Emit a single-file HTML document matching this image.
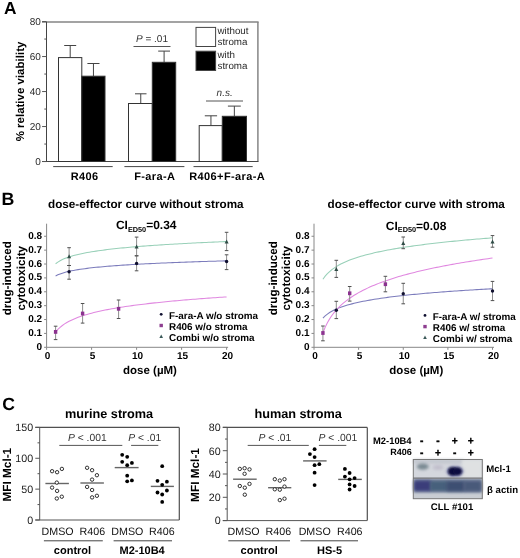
<!DOCTYPE html>
<html><head><meta charset="utf-8"><style>
html,body{margin:0;padding:0;background:#fff;}
svg{display:block;font-family:"Liberation Sans", sans-serif;opacity:0.999;text-rendering:geometricPrecision;}
</style></head><body>
<svg width="520" height="558" viewBox="0 0 520 558">
<rect width="520" height="558" fill="#fff"/>
<text x="4.00" y="14.30" font-size="17.3" font-weight="bold" font-style="normal" text-anchor="start" fill="#000" >A</text>
<line x1="42.00" y1="21.90" x2="258.60" y2="21.90" stroke="#858585" stroke-width="1.5"/>
<line x1="257.90" y1="21.90" x2="257.90" y2="161.50" stroke="#858585" stroke-width="1.5"/>
<line x1="46.50" y1="21.90" x2="46.50" y2="161.60" stroke="#444" stroke-width="1"/>
<line x1="42.00" y1="161.50" x2="258.50" y2="161.50" stroke="#444" stroke-width="1"/>
<line x1="42.10" y1="161.55" x2="46.50" y2="161.55" stroke="#555" stroke-width="1"/>
<text x="40.80" y="165.05" font-size="10" font-weight="normal" font-style="normal" text-anchor="end" fill="#2a2a2a" >0</text>
<line x1="42.10" y1="126.55" x2="46.50" y2="126.55" stroke="#555" stroke-width="1"/>
<text x="40.80" y="130.05" font-size="10" font-weight="normal" font-style="normal" text-anchor="end" fill="#2a2a2a" >20</text>
<line x1="42.10" y1="91.55" x2="46.50" y2="91.55" stroke="#555" stroke-width="1"/>
<text x="40.80" y="95.05" font-size="10" font-weight="normal" font-style="normal" text-anchor="end" fill="#2a2a2a" >40</text>
<line x1="42.10" y1="56.55" x2="46.50" y2="56.55" stroke="#555" stroke-width="1"/>
<text x="40.80" y="60.05" font-size="10" font-weight="normal" font-style="normal" text-anchor="end" fill="#2a2a2a" >60</text>
<line x1="42.10" y1="21.55" x2="46.50" y2="21.55" stroke="#555" stroke-width="1"/>
<text x="40.80" y="25.05" font-size="10" font-weight="normal" font-style="normal" text-anchor="end" fill="#2a2a2a" >80</text>
<line x1="44.30" y1="144.05" x2="46.50" y2="144.05" stroke="#555" stroke-width="1"/>
<line x1="44.30" y1="109.05" x2="46.50" y2="109.05" stroke="#555" stroke-width="1"/>
<line x1="44.30" y1="74.05" x2="46.50" y2="74.05" stroke="#555" stroke-width="1"/>
<line x1="44.30" y1="39.05" x2="46.50" y2="39.05" stroke="#555" stroke-width="1"/>
<line x1="70.20" y1="57.60" x2="70.20" y2="45.50" stroke="#444" stroke-width="1"/>
<line x1="64.20" y1="45.50" x2="76.20" y2="45.50" stroke="#444" stroke-width="1"/>
<rect x="58.50" y="57.60" width="23.30" height="103.90" fill="#fff" stroke="#333" stroke-width="1"/>
<line x1="93.45" y1="76.20" x2="93.45" y2="63.50" stroke="#444" stroke-width="1"/>
<line x1="87.40" y1="63.50" x2="99.50" y2="63.50" stroke="#444" stroke-width="1"/>
<rect x="81.80" y="76.20" width="23.20" height="85.30" fill="#000" stroke="#333" stroke-width="1"/>
<line x1="140.75" y1="103.50" x2="140.75" y2="93.80" stroke="#444" stroke-width="1"/>
<line x1="135.00" y1="93.80" x2="146.50" y2="93.80" stroke="#444" stroke-width="1"/>
<rect x="128.50" y="103.50" width="23.80" height="58.00" fill="#fff" stroke="#333" stroke-width="1"/>
<line x1="164.10" y1="62.30" x2="164.10" y2="51.10" stroke="#444" stroke-width="1"/>
<line x1="158.20" y1="51.10" x2="170.00" y2="51.10" stroke="#444" stroke-width="1"/>
<rect x="152.30" y="62.30" width="23.40" height="99.20" fill="#000" stroke="#333" stroke-width="1"/>
<line x1="210.95" y1="125.60" x2="210.95" y2="115.80" stroke="#444" stroke-width="1"/>
<line x1="204.80" y1="115.80" x2="217.10" y2="115.80" stroke="#444" stroke-width="1"/>
<rect x="199.20" y="125.60" width="23.10" height="35.90" fill="#fff" stroke="#333" stroke-width="1"/>
<line x1="234.35" y1="116.30" x2="234.35" y2="106.10" stroke="#444" stroke-width="1"/>
<line x1="227.90" y1="106.10" x2="240.80" y2="106.10" stroke="#444" stroke-width="1"/>
<rect x="222.30" y="116.30" width="24.20" height="45.20" fill="#000" stroke="#333" stroke-width="1"/>
<text x="136.00" y="41.50" font-size="10" font-weight="normal" font-style="normal" text-anchor="start" fill="#333" ><tspan font-style="italic">P</tspan> = .01</text>
<line x1="133.50" y1="46.50" x2="170.50" y2="46.50" stroke="#555" stroke-width="1"/>
<text x="216.60" y="95.60" font-size="10" font-weight="normal" font-style="italic" text-anchor="start" fill="#333" >n.s.</text>
<line x1="206.00" y1="101.00" x2="243.00" y2="101.00" stroke="#555" stroke-width="1"/>
<rect x="196.00" y="27.40" width="19.60" height="19.10" fill="#fff" stroke="#444" stroke-width="1"/>
<rect x="196.00" y="51.20" width="19.60" height="19.30" fill="#000" stroke="#444" stroke-width="1"/>
<text x="217.50" y="33.90" font-size="9.8" font-weight="normal" font-style="normal" text-anchor="start" fill="#2a2a2a" >without</text>
<text x="217.50" y="45.10" font-size="9.8" font-weight="normal" font-style="normal" text-anchor="start" fill="#2a2a2a" >stroma</text>
<text x="217.50" y="58.20" font-size="9.8" font-weight="normal" font-style="normal" text-anchor="start" fill="#2a2a2a" >with</text>
<text x="217.50" y="69.30" font-size="9.8" font-weight="normal" font-style="normal" text-anchor="start" fill="#2a2a2a" >stroma</text>
<line x1="53.20" y1="166.60" x2="112.70" y2="166.60" stroke="#444" stroke-width="1"/>
<line x1="124.40" y1="166.60" x2="184.40" y2="166.60" stroke="#444" stroke-width="1"/>
<line x1="193.50" y1="166.60" x2="252.70" y2="166.60" stroke="#444" stroke-width="1"/>
<text x="84.70" y="180.00" font-size="11" font-weight="bold" font-style="normal" text-anchor="middle" fill="#000" letter-spacing="0.4">R406</text>
<text x="154.80" y="180.00" font-size="11" font-weight="bold" font-style="normal" text-anchor="middle" fill="#000" letter-spacing="0.4">F-ara-A</text>
<text x="227.20" y="180.00" font-size="11" font-weight="bold" font-style="normal" text-anchor="middle" fill="#000" letter-spacing="0.4">R406+F-ara-A</text>
<text transform="translate(23.6,91.5) rotate(-90)" font-size="11.5" font-weight="bold" text-anchor="middle" fill="#000">% relative viability</text>
<text x="1.60" y="204.90" font-size="17.8" font-weight="bold" font-style="normal" text-anchor="start" fill="#000" >B</text>
<text x="48.10" y="207.70" font-size="11.7" font-weight="bold" font-style="normal" text-anchor="start" fill="#000" >dose-effector curve without stroma</text>
<text x="115.90" y="229.30" font-size="12" font-weight="bold" fill="#000">CI<tspan font-size="7.3" dy="2.6">ED50</tspan><tspan dy="-2.6">=0.34</tspan></text>
<line x1="46.60" y1="223.70" x2="46.60" y2="347.30" stroke="#888" stroke-width="1"/>
<line x1="46.60" y1="347.30" x2="228.10" y2="347.30" stroke="#888" stroke-width="1"/>
<line x1="44.10" y1="347.30" x2="46.60" y2="347.30" stroke="#888" stroke-width="1"/>
<text x="42.10" y="349.80" font-size="10" font-weight="bold" font-style="normal" text-anchor="end" fill="#000" >0</text>
<line x1="44.10" y1="333.42" x2="46.60" y2="333.42" stroke="#888" stroke-width="1"/>
<text x="42.10" y="335.92" font-size="10" font-weight="bold" font-style="normal" text-anchor="end" fill="#000" >0.1</text>
<line x1="44.10" y1="319.54" x2="46.60" y2="319.54" stroke="#888" stroke-width="1"/>
<text x="42.10" y="322.04" font-size="10" font-weight="bold" font-style="normal" text-anchor="end" fill="#000" >0.2</text>
<line x1="44.10" y1="305.66" x2="46.60" y2="305.66" stroke="#888" stroke-width="1"/>
<text x="42.10" y="308.16" font-size="10" font-weight="bold" font-style="normal" text-anchor="end" fill="#000" >0.3</text>
<line x1="44.10" y1="291.78" x2="46.60" y2="291.78" stroke="#888" stroke-width="1"/>
<text x="42.10" y="294.28" font-size="10" font-weight="bold" font-style="normal" text-anchor="end" fill="#000" >0.4</text>
<line x1="44.10" y1="277.90" x2="46.60" y2="277.90" stroke="#888" stroke-width="1"/>
<text x="42.10" y="280.40" font-size="10" font-weight="bold" font-style="normal" text-anchor="end" fill="#000" >0.5</text>
<line x1="44.10" y1="264.02" x2="46.60" y2="264.02" stroke="#888" stroke-width="1"/>
<text x="42.10" y="266.52" font-size="10" font-weight="bold" font-style="normal" text-anchor="end" fill="#000" >0.6</text>
<line x1="44.10" y1="250.14" x2="46.60" y2="250.14" stroke="#888" stroke-width="1"/>
<text x="42.10" y="252.64" font-size="10" font-weight="bold" font-style="normal" text-anchor="end" fill="#000" >0.7</text>
<line x1="44.10" y1="236.26" x2="46.60" y2="236.26" stroke="#888" stroke-width="1"/>
<text x="42.10" y="238.76" font-size="10" font-weight="bold" font-style="normal" text-anchor="end" fill="#000" >0.8</text>
<line x1="46.60" y1="347.30" x2="46.60" y2="349.80" stroke="#888" stroke-width="1"/>
<text x="47.60" y="359.10" font-size="10" font-weight="bold" font-style="normal" text-anchor="middle" fill="#000" >0</text>
<line x1="91.60" y1="347.30" x2="91.60" y2="349.80" stroke="#888" stroke-width="1"/>
<text x="92.60" y="359.10" font-size="10" font-weight="bold" font-style="normal" text-anchor="middle" fill="#000" >5</text>
<line x1="136.60" y1="347.30" x2="136.60" y2="349.80" stroke="#888" stroke-width="1"/>
<text x="137.60" y="359.10" font-size="10" font-weight="bold" font-style="normal" text-anchor="middle" fill="#000" >10</text>
<line x1="181.60" y1="347.30" x2="181.60" y2="349.80" stroke="#888" stroke-width="1"/>
<text x="182.60" y="359.10" font-size="10" font-weight="bold" font-style="normal" text-anchor="middle" fill="#000" >15</text>
<line x1="226.60" y1="347.30" x2="226.60" y2="349.80" stroke="#888" stroke-width="1"/>
<text x="227.60" y="359.10" font-size="10" font-weight="bold" font-style="normal" text-anchor="middle" fill="#000" >20</text>
<text x="150.00" y="374.30" font-size="11.5" font-weight="bold" font-style="normal" text-anchor="middle" fill="#000" >dose (&#181;M)</text>
<polyline points="55.60,275.96 57.85,274.83 60.10,273.91 62.35,273.13 64.60,272.45 66.85,271.86 69.10,271.33 71.35,270.85 73.60,270.41 75.85,270.00 78.10,269.63 80.35,269.28 82.60,268.95 84.85,268.65 87.10,268.36 89.35,268.08 91.60,267.83 93.85,267.58 96.10,267.34 98.35,267.12 100.60,266.90 102.85,266.70 105.10,266.50 107.35,266.31 109.60,266.13 111.85,265.95 114.10,265.78 116.35,265.61 118.60,265.45 120.85,265.30 123.10,265.14 125.35,265.00 127.60,264.86 129.85,264.72 132.10,264.58 134.35,264.45 136.60,264.32 138.85,264.20 141.10,264.08 143.35,263.96 145.60,263.84 147.85,263.73 150.10,263.62 152.35,263.51 154.60,263.40 156.85,263.30 159.10,263.20 161.35,263.10 163.60,263.00 165.85,262.90 168.10,262.81 170.35,262.71 172.60,262.62 174.85,262.53 177.10,262.45 179.35,262.36 181.60,262.27 183.85,262.19 186.10,262.11 188.35,262.03 190.60,261.95 192.85,261.87 195.10,261.79 197.35,261.72 199.60,261.64 201.85,261.57 204.10,261.50 206.35,261.42 208.60,261.35 210.85,261.28 213.10,261.22 215.35,261.15 217.60,261.08 219.85,261.01 222.10,260.95 224.35,260.88 226.60,260.82" fill="none" stroke="#7c7cbc" stroke-width="1.05"/>
<polyline points="55.60,332.03 57.85,329.41 60.10,327.28 62.35,325.47 64.60,323.90 66.85,322.52 69.10,321.29 71.35,320.17 73.60,319.15 75.85,318.21 78.10,317.34 80.35,316.53 82.60,315.77 84.85,315.06 87.10,314.39 89.35,313.76 91.60,313.16 93.85,312.58 96.10,312.04 98.35,311.52 100.60,311.02 102.85,310.54 105.10,310.08 107.35,309.64 109.60,309.21 111.85,308.80 114.10,308.40 116.35,308.02 118.60,307.64 120.85,307.28 123.10,306.93 125.35,306.59 127.60,306.26 129.85,305.94 132.10,305.63 134.35,305.32 136.60,305.03 138.85,304.74 141.10,304.45 143.35,304.18 145.60,303.91 147.85,303.64 150.10,303.39 152.35,303.13 154.60,302.89 156.85,302.65 159.10,302.41 161.35,302.18 163.60,301.95 165.85,301.73 168.10,301.51 170.35,301.29 172.60,301.08 174.85,300.87 177.10,300.67 179.35,300.47 181.60,300.27 183.85,300.08 186.10,299.89 188.35,299.70 190.60,299.51 192.85,299.33 195.10,299.15 197.35,298.98 199.60,298.80 201.85,298.63 204.10,298.46 206.35,298.30 208.60,298.13 210.85,297.97 213.10,297.81 215.35,297.65 217.60,297.50 219.85,297.34 222.10,297.19 224.35,297.04 226.60,296.90" fill="none" stroke="#e088e0" stroke-width="1.05"/>
<polyline points="55.60,263.74 57.85,262.09 60.10,260.74 62.35,259.59 64.60,258.60 66.85,257.73 69.10,256.95 71.35,256.24 73.60,255.60 75.85,255.01 78.10,254.46 80.35,253.95 82.60,253.47 84.85,253.02 87.10,252.59 89.35,252.19 91.60,251.81 93.85,251.45 96.10,251.11 98.35,250.78 100.60,250.46 102.85,250.16 105.10,249.87 107.35,249.59 109.60,249.32 111.85,249.06 114.10,248.81 116.35,248.57 118.60,248.33 120.85,248.10 123.10,247.88 125.35,247.67 127.60,247.46 129.85,247.25 132.10,247.06 134.35,246.86 136.60,246.68 138.85,246.49 141.10,246.31 143.35,246.14 145.60,245.97 147.85,245.80 150.10,245.64 152.35,245.48 154.60,245.32 156.85,245.17 159.10,245.02 161.35,244.88 163.60,244.73 165.85,244.59 168.10,244.45 170.35,244.32 172.60,244.18 174.85,244.05 177.10,243.92 179.35,243.80 181.60,243.67 183.85,243.55 186.10,243.43 188.35,243.31 190.60,243.19 192.85,243.08 195.10,242.96 197.35,242.85 199.60,242.74 201.85,242.63 204.10,242.53 206.35,242.42 208.60,242.32 210.85,242.22 213.10,242.12 215.35,242.02 217.60,241.92 219.85,241.82 222.10,241.73 224.35,241.63 226.60,241.54" fill="none" stroke="#98d0b8" stroke-width="1.05"/>
<line x1="69.10" y1="279.20" x2="69.10" y2="265.50" stroke="#808080" stroke-width="0.9"/>
<line x1="67.30" y1="279.20" x2="70.90" y2="279.20" stroke="#505050" stroke-width="1.0"/>
<line x1="67.30" y1="265.50" x2="70.90" y2="265.50" stroke="#505050" stroke-width="1.0"/>
<line x1="136.60" y1="270.80" x2="136.60" y2="255.80" stroke="#808080" stroke-width="0.9"/>
<line x1="134.80" y1="270.80" x2="138.40" y2="270.80" stroke="#505050" stroke-width="1.0"/>
<line x1="134.80" y1="255.80" x2="138.40" y2="255.80" stroke="#505050" stroke-width="1.0"/>
<line x1="226.60" y1="269.60" x2="226.60" y2="254.80" stroke="#808080" stroke-width="0.9"/>
<line x1="224.80" y1="269.60" x2="228.40" y2="269.60" stroke="#505050" stroke-width="1.0"/>
<line x1="224.80" y1="254.80" x2="228.40" y2="254.80" stroke="#505050" stroke-width="1.0"/>
<line x1="55.60" y1="339.60" x2="55.60" y2="326.20" stroke="#808080" stroke-width="0.9"/>
<line x1="53.80" y1="339.60" x2="57.40" y2="339.60" stroke="#505050" stroke-width="1.0"/>
<line x1="53.80" y1="326.20" x2="57.40" y2="326.20" stroke="#505050" stroke-width="1.0"/>
<line x1="82.60" y1="323.10" x2="82.60" y2="303.50" stroke="#808080" stroke-width="0.9"/>
<line x1="80.80" y1="323.10" x2="84.40" y2="323.10" stroke="#505050" stroke-width="1.0"/>
<line x1="80.80" y1="303.50" x2="84.40" y2="303.50" stroke="#505050" stroke-width="1.0"/>
<line x1="118.60" y1="318.50" x2="118.60" y2="300.00" stroke="#808080" stroke-width="0.9"/>
<line x1="116.80" y1="318.50" x2="120.40" y2="318.50" stroke="#505050" stroke-width="1.0"/>
<line x1="116.80" y1="300.00" x2="120.40" y2="300.00" stroke="#505050" stroke-width="1.0"/>
<line x1="69.10" y1="265.50" x2="69.10" y2="247.70" stroke="#808080" stroke-width="0.9"/>
<line x1="67.30" y1="265.50" x2="70.90" y2="265.50" stroke="#505050" stroke-width="1.0"/>
<line x1="67.30" y1="247.70" x2="70.90" y2="247.70" stroke="#505050" stroke-width="1.0"/>
<line x1="136.60" y1="255.80" x2="136.60" y2="237.10" stroke="#808080" stroke-width="0.9"/>
<line x1="134.80" y1="255.80" x2="138.40" y2="255.80" stroke="#505050" stroke-width="1.0"/>
<line x1="134.80" y1="237.10" x2="138.40" y2="237.10" stroke="#505050" stroke-width="1.0"/>
<line x1="226.60" y1="250.60" x2="226.60" y2="232.30" stroke="#808080" stroke-width="0.9"/>
<line x1="224.80" y1="250.60" x2="228.40" y2="250.60" stroke="#505050" stroke-width="1.0"/>
<line x1="224.80" y1="232.30" x2="228.40" y2="232.30" stroke="#505050" stroke-width="1.0"/>
<circle cx="69.10" cy="271.70" r="1.7" fill="#101030"/>
<circle cx="136.60" cy="263.50" r="1.7" fill="#101030"/>
<circle cx="226.60" cy="261.50" r="1.7" fill="#101030"/>
<rect x="53.90" y="330.00" width="3.40" height="3.80" fill="#8c3290" stroke="none" stroke-width="1"/>
<rect x="80.90" y="311.60" width="3.40" height="3.80" fill="#8c3290" stroke="none" stroke-width="1"/>
<rect x="116.90" y="306.90" width="3.40" height="3.80" fill="#8c3290" stroke="none" stroke-width="1"/>
<path d="M69.10,254.20 L71.10,258.20 L67.10,258.20 Z" fill="#2f4c46"/>
<path d="M136.60,244.60 L138.60,248.60 L134.60,248.60 Z" fill="#2f4c46"/>
<path d="M226.60,239.40 L228.60,243.40 L224.60,243.40 Z" fill="#2f4c46"/>
<circle cx="161.20" cy="314.30" r="1.4" fill="#101030"/>
<text x="169.00" y="318.70" font-size="9.9" font-weight="bold" font-style="normal" text-anchor="start" fill="#000" >F-ara-A w/o stroma</text>
<rect x="159.50" y="323.80" width="3.40" height="3.40" fill="#8e3e90" stroke="none" stroke-width="1"/>
<text x="169.00" y="329.80" font-size="9.9" font-weight="bold" font-style="normal" text-anchor="start" fill="#000" >R406 w/o stroma</text>
<path d="M161.20,334.50 L163.00,337.90 L159.40,337.90 Z" fill="#3a5858"/>
<text x="169.00" y="340.90" font-size="9.9" font-weight="bold" font-style="normal" text-anchor="start" fill="#000" >Combi w/o stroma</text>
<text transform="translate(10.70,278.2) rotate(-90)" font-size="11.6" font-weight="bold" text-anchor="middle" fill="#000">drug-induced</text>
<text transform="translate(24.80,278.2) rotate(-90)" font-size="11.6" font-weight="bold" text-anchor="middle" fill="#000">cytotoxicity</text>
<text x="327.50" y="207.70" font-size="11.7" font-weight="bold" font-style="normal" text-anchor="start" fill="#000" >dose-effector curve with stroma</text>
<text x="385.80" y="229.80" font-size="12" font-weight="bold" fill="#000">CI<tspan font-size="7.3" dy="2.6">ED50</tspan><tspan dy="-2.6">=0.08</tspan></text>
<line x1="314.00" y1="223.70" x2="314.00" y2="347.30" stroke="#888" stroke-width="1"/>
<line x1="314.00" y1="347.30" x2="494.00" y2="347.30" stroke="#888" stroke-width="1"/>
<line x1="311.50" y1="347.30" x2="314.00" y2="347.30" stroke="#888" stroke-width="1"/>
<text x="309.50" y="349.80" font-size="10" font-weight="bold" font-style="normal" text-anchor="end" fill="#000" >0</text>
<line x1="311.50" y1="333.42" x2="314.00" y2="333.42" stroke="#888" stroke-width="1"/>
<text x="309.50" y="335.92" font-size="10" font-weight="bold" font-style="normal" text-anchor="end" fill="#000" >0.1</text>
<line x1="311.50" y1="319.54" x2="314.00" y2="319.54" stroke="#888" stroke-width="1"/>
<text x="309.50" y="322.04" font-size="10" font-weight="bold" font-style="normal" text-anchor="end" fill="#000" >0.2</text>
<line x1="311.50" y1="305.66" x2="314.00" y2="305.66" stroke="#888" stroke-width="1"/>
<text x="309.50" y="308.16" font-size="10" font-weight="bold" font-style="normal" text-anchor="end" fill="#000" >0.3</text>
<line x1="311.50" y1="291.78" x2="314.00" y2="291.78" stroke="#888" stroke-width="1"/>
<text x="309.50" y="294.28" font-size="10" font-weight="bold" font-style="normal" text-anchor="end" fill="#000" >0.4</text>
<line x1="311.50" y1="277.90" x2="314.00" y2="277.90" stroke="#888" stroke-width="1"/>
<text x="309.50" y="280.40" font-size="10" font-weight="bold" font-style="normal" text-anchor="end" fill="#000" >0.5</text>
<line x1="311.50" y1="264.02" x2="314.00" y2="264.02" stroke="#888" stroke-width="1"/>
<text x="309.50" y="266.52" font-size="10" font-weight="bold" font-style="normal" text-anchor="end" fill="#000" >0.6</text>
<line x1="311.50" y1="250.14" x2="314.00" y2="250.14" stroke="#888" stroke-width="1"/>
<text x="309.50" y="252.64" font-size="10" font-weight="bold" font-style="normal" text-anchor="end" fill="#000" >0.7</text>
<line x1="311.50" y1="236.26" x2="314.00" y2="236.26" stroke="#888" stroke-width="1"/>
<text x="309.50" y="238.76" font-size="10" font-weight="bold" font-style="normal" text-anchor="end" fill="#000" >0.8</text>
<line x1="314.00" y1="347.30" x2="314.00" y2="349.80" stroke="#888" stroke-width="1"/>
<text x="315.00" y="359.10" font-size="10" font-weight="bold" font-style="normal" text-anchor="middle" fill="#000" >0</text>
<line x1="358.62" y1="347.30" x2="358.62" y2="349.80" stroke="#888" stroke-width="1"/>
<text x="359.62" y="359.10" font-size="10" font-weight="bold" font-style="normal" text-anchor="middle" fill="#000" >5</text>
<line x1="403.25" y1="347.30" x2="403.25" y2="349.80" stroke="#888" stroke-width="1"/>
<text x="404.25" y="359.10" font-size="10" font-weight="bold" font-style="normal" text-anchor="middle" fill="#000" >10</text>
<line x1="447.88" y1="347.30" x2="447.88" y2="349.80" stroke="#888" stroke-width="1"/>
<text x="448.88" y="359.10" font-size="10" font-weight="bold" font-style="normal" text-anchor="middle" fill="#000" >15</text>
<line x1="492.50" y1="347.30" x2="492.50" y2="349.80" stroke="#888" stroke-width="1"/>
<text x="493.50" y="359.10" font-size="10" font-weight="bold" font-style="normal" text-anchor="middle" fill="#000" >20</text>
<text x="416.30" y="374.30" font-size="11.5" font-weight="bold" font-style="normal" text-anchor="middle" fill="#000" >dose (&#181;M)</text>
<polyline points="322.93,318.01 325.16,315.83 327.39,314.05 329.62,312.54 331.85,311.24 334.08,310.09 336.31,309.06 338.54,308.13 340.77,307.28 343.01,306.50 345.24,305.77 347.47,305.10 349.70,304.47 351.93,303.87 354.16,303.32 356.39,302.79 358.62,302.29 360.86,301.81 363.09,301.36 365.32,300.92 367.55,300.50 369.78,300.11 372.01,299.72 374.24,299.35 376.48,299.00 378.71,298.66 380.94,298.32 383.17,298.00 385.40,297.69 387.63,297.39 389.86,297.10 392.09,296.82 394.32,296.54 396.56,296.28 398.79,296.01 401.02,295.76 403.25,295.51 405.48,295.27 407.71,295.04 409.94,294.81 412.18,294.58 414.41,294.36 416.64,294.15 418.87,293.94 421.10,293.73 423.33,293.53 425.56,293.33 427.79,293.14 430.02,292.95 432.26,292.76 434.49,292.58 436.72,292.40 438.95,292.23 441.18,292.05 443.41,291.88 445.64,291.72 447.88,291.55 450.11,291.39 452.34,291.23 454.57,291.07 456.80,290.92 459.03,290.77 461.26,290.62 463.49,290.47 465.73,290.33 467.96,290.19 470.19,290.05 472.42,289.91 474.65,289.77 476.88,289.64 479.11,289.50 481.34,289.37 483.58,289.24 485.81,289.11 488.04,288.99 490.27,288.86 492.50,288.74" fill="none" stroke="#7c7cbc" stroke-width="1.05"/>
<polyline points="322.93,332.86 325.16,327.29 327.39,322.73 329.62,318.88 331.85,315.55 334.08,312.60 336.31,309.97 338.54,307.59 340.77,305.42 343.01,303.42 345.24,301.57 347.47,299.84 349.70,298.23 351.93,296.71 354.16,295.29 356.39,293.94 358.62,292.65 360.86,291.44 363.09,290.27 365.32,289.16 367.55,288.10 369.78,287.08 372.01,286.10 374.24,285.16 376.48,284.25 378.71,283.37 380.94,282.52 383.17,281.71 385.40,280.91 387.63,280.14 389.86,279.40 392.09,278.67 394.32,277.97 396.56,277.28 398.79,276.62 401.02,275.97 403.25,275.34 405.48,274.72 407.71,274.12 409.94,273.53 412.18,272.96 414.41,272.39 416.64,271.85 418.87,271.31 421.10,270.78 423.33,270.27 425.56,269.76 427.79,269.27 430.02,268.78 432.26,268.31 434.49,267.84 436.72,267.38 438.95,266.93 441.18,266.49 443.41,266.05 445.64,265.63 447.88,265.21 450.11,264.79 452.34,264.39 454.57,263.99 456.80,263.59 459.03,263.21 461.26,262.83 463.49,262.45 465.73,262.08 467.96,261.72 470.19,261.36 472.42,261.00 474.65,260.65 476.88,260.31 479.11,259.97 481.34,259.63 483.58,259.30 485.81,258.97 488.04,258.65 490.27,258.33 492.50,258.02" fill="none" stroke="#e088e0" stroke-width="1.05"/>
<polyline points="322.93,279.29 325.16,276.20 327.39,273.68 329.62,271.54 331.85,269.70 334.08,268.07 336.31,266.61 338.54,265.29 340.77,264.09 343.01,262.98 345.24,261.95 347.47,261.00 349.70,260.10 351.93,259.27 354.16,258.47 356.39,257.73 358.62,257.02 360.86,256.34 363.09,255.70 365.32,255.08 367.55,254.49 369.78,253.93 372.01,253.39 374.24,252.86 376.48,252.36 378.71,251.87 380.94,251.41 383.17,250.95 385.40,250.51 387.63,250.09 389.86,249.67 392.09,249.27 394.32,248.88 396.56,248.50 398.79,248.13 401.02,247.77 403.25,247.42 405.48,247.08 407.71,246.75 409.94,246.42 412.18,246.11 414.41,245.79 416.64,245.49 418.87,245.19 421.10,244.90 423.33,244.62 425.56,244.34 427.79,244.06 430.02,243.79 432.26,243.53 434.49,243.27 436.72,243.02 438.95,242.77 441.18,242.52 443.41,242.28 445.64,242.05 447.88,241.81 450.11,241.58 452.34,241.36 454.57,241.14 456.80,240.92 459.03,240.71 461.26,240.49 463.49,240.29 465.73,240.08 467.96,239.88 470.19,239.68 472.42,239.48 474.65,239.29 476.88,239.10 479.11,238.91 481.34,238.73 483.58,238.54 485.81,238.36 488.04,238.18 490.27,238.01 492.50,237.83" fill="none" stroke="#98d0b8" stroke-width="1.05"/>
<line x1="336.31" y1="318.60" x2="336.31" y2="301.30" stroke="#808080" stroke-width="0.9"/>
<line x1="334.51" y1="318.60" x2="338.11" y2="318.60" stroke="#505050" stroke-width="1.0"/>
<line x1="334.51" y1="301.30" x2="338.11" y2="301.30" stroke="#505050" stroke-width="1.0"/>
<line x1="403.25" y1="303.80" x2="403.25" y2="283.30" stroke="#808080" stroke-width="0.9"/>
<line x1="401.45" y1="303.80" x2="405.05" y2="303.80" stroke="#505050" stroke-width="1.0"/>
<line x1="401.45" y1="283.30" x2="405.05" y2="283.30" stroke="#505050" stroke-width="1.0"/>
<line x1="492.50" y1="300.60" x2="492.50" y2="281.40" stroke="#808080" stroke-width="0.9"/>
<line x1="490.70" y1="300.60" x2="494.30" y2="300.60" stroke="#505050" stroke-width="1.0"/>
<line x1="490.70" y1="281.40" x2="494.30" y2="281.40" stroke="#505050" stroke-width="1.0"/>
<line x1="322.93" y1="340.80" x2="322.93" y2="326.00" stroke="#808080" stroke-width="0.9"/>
<line x1="321.12" y1="340.80" x2="324.73" y2="340.80" stroke="#505050" stroke-width="1.0"/>
<line x1="321.12" y1="326.00" x2="324.73" y2="326.00" stroke="#505050" stroke-width="1.0"/>
<line x1="349.70" y1="301.10" x2="349.70" y2="286.50" stroke="#808080" stroke-width="0.9"/>
<line x1="347.90" y1="301.10" x2="351.50" y2="301.10" stroke="#505050" stroke-width="1.0"/>
<line x1="347.90" y1="286.50" x2="351.50" y2="286.50" stroke="#505050" stroke-width="1.0"/>
<line x1="385.40" y1="291.80" x2="385.40" y2="276.30" stroke="#808080" stroke-width="0.9"/>
<line x1="383.60" y1="291.80" x2="387.20" y2="291.80" stroke="#505050" stroke-width="1.0"/>
<line x1="383.60" y1="276.30" x2="387.20" y2="276.30" stroke="#505050" stroke-width="1.0"/>
<line x1="336.31" y1="277.40" x2="336.31" y2="260.30" stroke="#808080" stroke-width="0.9"/>
<line x1="334.51" y1="277.40" x2="338.11" y2="277.40" stroke="#505050" stroke-width="1.0"/>
<line x1="334.51" y1="260.30" x2="338.11" y2="260.30" stroke="#505050" stroke-width="1.0"/>
<line x1="403.25" y1="248.70" x2="403.25" y2="237.00" stroke="#808080" stroke-width="0.9"/>
<line x1="401.45" y1="248.70" x2="405.05" y2="248.70" stroke="#505050" stroke-width="1.0"/>
<line x1="401.45" y1="237.00" x2="405.05" y2="237.00" stroke="#505050" stroke-width="1.0"/>
<line x1="492.50" y1="247.20" x2="492.50" y2="235.60" stroke="#808080" stroke-width="0.9"/>
<line x1="490.70" y1="247.20" x2="494.30" y2="247.20" stroke="#505050" stroke-width="1.0"/>
<line x1="490.70" y1="235.60" x2="494.30" y2="235.60" stroke="#505050" stroke-width="1.0"/>
<circle cx="336.31" cy="310.20" r="1.7" fill="#101030"/>
<circle cx="403.25" cy="293.70" r="1.7" fill="#101030"/>
<circle cx="492.50" cy="291.00" r="1.7" fill="#101030"/>
<rect x="321.23" y="331.10" width="3.40" height="3.80" fill="#8c3290" stroke="none" stroke-width="1"/>
<rect x="348.00" y="291.40" width="3.40" height="3.80" fill="#8c3290" stroke="none" stroke-width="1"/>
<rect x="383.70" y="282.30" width="3.40" height="3.80" fill="#8c3290" stroke="none" stroke-width="1"/>
<path d="M336.31,266.90 L338.31,270.90 L334.31,270.90 Z" fill="#2f4c46"/>
<path d="M403.25,241.10 L405.25,245.10 L401.25,245.10 Z" fill="#2f4c46"/>
<path d="M492.50,239.40 L494.50,243.40 L490.50,243.40 Z" fill="#2f4c46"/>
<circle cx="425.00" cy="315.40" r="1.4" fill="#101030"/>
<text x="432.80" y="319.80" font-size="9.9" font-weight="bold" font-style="normal" text-anchor="start" fill="#000" >F-ara-A w/ stroma</text>
<rect x="423.30" y="324.90" width="3.40" height="3.40" fill="#8e3e90" stroke="none" stroke-width="1"/>
<text x="432.80" y="330.90" font-size="9.9" font-weight="bold" font-style="normal" text-anchor="start" fill="#000" >R406 w/ stroma</text>
<path d="M425.00,335.60 L426.80,339.00 L423.20,339.00 Z" fill="#3a5858"/>
<text x="432.80" y="342.00" font-size="9.9" font-weight="bold" font-style="normal" text-anchor="start" fill="#000" >Combi w/ stroma</text>
<text transform="translate(276.80,278.2) rotate(-90)" font-size="11.6" font-weight="bold" text-anchor="middle" fill="#000">drug-induced</text>
<text transform="translate(290.40,278.2) rotate(-90)" font-size="11.6" font-weight="bold" text-anchor="middle" fill="#000">cytotoxicity</text>
<text x="2.30" y="409.50" font-size="17.6" font-weight="bold" font-style="normal" text-anchor="start" fill="#000" >C</text>
<text x="65.00" y="418.00" font-size="12.7" font-weight="bold" font-style="normal" text-anchor="start" fill="#000" >murine stroma</text>
<line x1="35.30" y1="427.40" x2="179.30" y2="427.40" stroke="#505050" stroke-width="1.2"/>
<line x1="179.30" y1="427.40" x2="179.30" y2="520.00" stroke="#505050" stroke-width="1.2"/>
<line x1="39.70" y1="427.40" x2="39.70" y2="520.00" stroke="#555" stroke-width="1"/>
<line x1="35.30" y1="520.00" x2="179.30" y2="520.00" stroke="#555" stroke-width="1"/>
<line x1="35.30" y1="520.00" x2="39.70" y2="520.00" stroke="#555" stroke-width="1"/>
<text x="33.10" y="523.80" font-size="10.7" font-weight="normal" font-style="normal" text-anchor="end" fill="#1a1a1a" >0</text>
<line x1="35.30" y1="489.13" x2="39.70" y2="489.13" stroke="#555" stroke-width="1"/>
<text x="33.10" y="492.93" font-size="10.7" font-weight="normal" font-style="normal" text-anchor="end" fill="#1a1a1a" >50</text>
<line x1="35.30" y1="458.27" x2="39.70" y2="458.27" stroke="#555" stroke-width="1"/>
<text x="33.10" y="462.07" font-size="10.7" font-weight="normal" font-style="normal" text-anchor="end" fill="#1a1a1a" >100</text>
<line x1="35.30" y1="427.40" x2="39.70" y2="427.40" stroke="#555" stroke-width="1"/>
<text x="33.10" y="431.20" font-size="10.7" font-weight="normal" font-style="normal" text-anchor="end" fill="#1a1a1a" >150</text>
<line x1="37.50" y1="504.57" x2="39.70" y2="504.57" stroke="#555" stroke-width="1"/>
<line x1="37.50" y1="473.70" x2="39.70" y2="473.70" stroke="#555" stroke-width="1"/>
<line x1="37.50" y1="442.83" x2="39.70" y2="442.83" stroke="#555" stroke-width="1"/>
<line x1="45.40" y1="483.50" x2="68.90" y2="483.50" stroke="#666" stroke-width="1.4"/>
<circle cx="52.10" cy="471.20" r="1.7" fill="#fff" stroke="#262626" stroke-width="0.95"/>
<circle cx="57.10" cy="472.20" r="1.7" fill="#fff" stroke="#262626" stroke-width="0.95"/>
<circle cx="61.90" cy="468.90" r="1.7" fill="#fff" stroke="#262626" stroke-width="0.95"/>
<circle cx="56.80" cy="482.60" r="1.7" fill="#fff" stroke="#262626" stroke-width="0.95"/>
<circle cx="52.10" cy="487.60" r="1.7" fill="#fff" stroke="#262626" stroke-width="0.95"/>
<circle cx="57.10" cy="490.90" r="1.7" fill="#fff" stroke="#262626" stroke-width="0.95"/>
<circle cx="56.80" cy="498.50" r="1.7" fill="#fff" stroke="#262626" stroke-width="0.95"/>
<circle cx="61.80" cy="496.70" r="1.7" fill="#fff" stroke="#262626" stroke-width="0.95"/>
<line x1="80.40" y1="483.00" x2="103.90" y2="483.00" stroke="#666" stroke-width="1.4"/>
<circle cx="87.10" cy="467.80" r="1.7" fill="#fff" stroke="#262626" stroke-width="0.95"/>
<circle cx="92.10" cy="470.20" r="1.7" fill="#fff" stroke="#262626" stroke-width="0.95"/>
<circle cx="96.90" cy="475.20" r="1.7" fill="#fff" stroke="#262626" stroke-width="0.95"/>
<circle cx="92.10" cy="479.60" r="1.7" fill="#fff" stroke="#262626" stroke-width="0.95"/>
<circle cx="87.10" cy="486.90" r="1.7" fill="#fff" stroke="#262626" stroke-width="0.95"/>
<circle cx="92.10" cy="490.00" r="1.7" fill="#fff" stroke="#262626" stroke-width="0.95"/>
<circle cx="92.10" cy="497.40" r="1.7" fill="#fff" stroke="#262626" stroke-width="0.95"/>
<circle cx="96.90" cy="495.80" r="1.7" fill="#fff" stroke="#262626" stroke-width="0.95"/>
<line x1="114.70" y1="467.60" x2="138.60" y2="467.60" stroke="#666" stroke-width="1.4"/>
<circle cx="122.20" cy="454.80" r="1.9" fill="#000"/>
<circle cx="127.20" cy="456.80" r="1.9" fill="#000"/>
<circle cx="122.20" cy="461.80" r="1.9" fill="#000"/>
<circle cx="131.90" cy="462.90" r="1.9" fill="#000"/>
<circle cx="127.20" cy="465.20" r="1.9" fill="#000"/>
<circle cx="127.20" cy="475.70" r="1.9" fill="#000"/>
<circle cx="127.20" cy="481.30" r="1.9" fill="#000"/>
<circle cx="131.90" cy="480.40" r="1.9" fill="#000"/>
<line x1="150.80" y1="486.40" x2="173.90" y2="486.40" stroke="#666" stroke-width="1.4"/>
<circle cx="162.20" cy="466.20" r="1.9" fill="#000"/>
<circle cx="157.50" cy="480.80" r="1.9" fill="#000"/>
<circle cx="166.90" cy="481.70" r="1.9" fill="#000"/>
<circle cx="162.20" cy="484.80" r="1.9" fill="#000"/>
<circle cx="166.90" cy="490.50" r="1.9" fill="#000"/>
<circle cx="157.50" cy="492.50" r="1.9" fill="#000"/>
<circle cx="162.20" cy="494.50" r="1.9" fill="#000"/>
<circle cx="162.20" cy="501.90" r="1.9" fill="#000"/>
<text x="68.00" y="441.00" font-size="10.3" font-weight="normal" font-style="normal" text-anchor="start" fill="#333" ><tspan font-style="italic">P</tspan> &lt; .001</text>
<line x1="59.30" y1="445.40" x2="122.30" y2="445.40" stroke="#555" stroke-width="1"/>
<text x="128.20" y="441.00" font-size="10.3" font-weight="normal" font-style="normal" text-anchor="start" fill="#333" ><tspan font-style="italic">P</tspan> &lt; .01</text>
<line x1="131.10" y1="445.40" x2="158.30" y2="445.40" stroke="#555" stroke-width="1"/>
<text x="57.60" y="535.10" font-size="10.7" font-weight="normal" font-style="normal" text-anchor="middle" fill="#111" >DMSO</text>
<text x="92.40" y="535.10" font-size="10.7" font-weight="normal" font-style="normal" text-anchor="middle" fill="#111" >R406</text>
<text x="127.30" y="535.10" font-size="10.7" font-weight="normal" font-style="normal" text-anchor="middle" fill="#111" >DMSO</text>
<text x="161.90" y="535.10" font-size="10.7" font-weight="normal" font-style="normal" text-anchor="middle" fill="#111" >R406</text>
<line x1="43.90" y1="540.80" x2="102.80" y2="540.80" stroke="#444" stroke-width="1"/>
<text x="72.50" y="553.90" font-size="11" font-weight="bold" font-style="normal" text-anchor="middle" fill="#000" >control</text>
<line x1="113.60" y1="540.80" x2="172.00" y2="540.80" stroke="#444" stroke-width="1"/>
<text x="142.10" y="553.90" font-size="11" font-weight="bold" font-style="normal" text-anchor="middle" fill="#000" >M2-10B4</text>
<text transform="translate(11.00,474.70) rotate(-90)" font-size="11.8" font-weight="bold" text-anchor="middle" fill="#000">MFI Mcl-1</text>
<text x="254.40" y="418.00" font-size="12.7" font-weight="bold" font-style="normal" text-anchor="start" fill="#000" >human stroma</text>
<line x1="222.80" y1="427.40" x2="367.30" y2="427.40" stroke="#505050" stroke-width="1.2"/>
<line x1="367.30" y1="427.40" x2="367.30" y2="520.60" stroke="#505050" stroke-width="1.2"/>
<line x1="227.20" y1="427.40" x2="227.20" y2="520.60" stroke="#555" stroke-width="1"/>
<line x1="222.80" y1="520.60" x2="367.30" y2="520.60" stroke="#555" stroke-width="1"/>
<line x1="222.80" y1="520.60" x2="227.20" y2="520.60" stroke="#555" stroke-width="1"/>
<text x="220.60" y="524.40" font-size="10.7" font-weight="normal" font-style="normal" text-anchor="end" fill="#1a1a1a" >0</text>
<line x1="222.80" y1="497.30" x2="227.20" y2="497.30" stroke="#555" stroke-width="1"/>
<text x="220.60" y="501.10" font-size="10.7" font-weight="normal" font-style="normal" text-anchor="end" fill="#1a1a1a" >20</text>
<line x1="222.80" y1="474.00" x2="227.20" y2="474.00" stroke="#555" stroke-width="1"/>
<text x="220.60" y="477.80" font-size="10.7" font-weight="normal" font-style="normal" text-anchor="end" fill="#1a1a1a" >40</text>
<line x1="222.80" y1="450.70" x2="227.20" y2="450.70" stroke="#555" stroke-width="1"/>
<text x="220.60" y="454.50" font-size="10.7" font-weight="normal" font-style="normal" text-anchor="end" fill="#1a1a1a" >60</text>
<line x1="222.80" y1="427.40" x2="227.20" y2="427.40" stroke="#555" stroke-width="1"/>
<text x="220.60" y="431.20" font-size="10.7" font-weight="normal" font-style="normal" text-anchor="end" fill="#1a1a1a" >80</text>
<line x1="225.00" y1="508.95" x2="227.20" y2="508.95" stroke="#555" stroke-width="1"/>
<line x1="225.00" y1="485.65" x2="227.20" y2="485.65" stroke="#555" stroke-width="1"/>
<line x1="225.00" y1="462.35" x2="227.20" y2="462.35" stroke="#555" stroke-width="1"/>
<line x1="225.00" y1="439.05" x2="227.20" y2="439.05" stroke="#555" stroke-width="1"/>
<line x1="233.10" y1="479.20" x2="256.70" y2="479.20" stroke="#666" stroke-width="1.4"/>
<circle cx="239.80" cy="468.90" r="1.7" fill="#fff" stroke="#262626" stroke-width="0.95"/>
<circle cx="244.60" cy="468.20" r="1.7" fill="#fff" stroke="#262626" stroke-width="0.95"/>
<circle cx="249.50" cy="469.40" r="1.7" fill="#fff" stroke="#262626" stroke-width="0.95"/>
<circle cx="244.60" cy="473.80" r="1.7" fill="#fff" stroke="#262626" stroke-width="0.95"/>
<circle cx="239.80" cy="486.00" r="1.7" fill="#fff" stroke="#262626" stroke-width="0.95"/>
<circle cx="244.80" cy="487.70" r="1.7" fill="#fff" stroke="#262626" stroke-width="0.95"/>
<circle cx="249.50" cy="483.90" r="1.7" fill="#fff" stroke="#262626" stroke-width="0.95"/>
<circle cx="244.80" cy="494.70" r="1.7" fill="#fff" stroke="#262626" stroke-width="0.95"/>
<line x1="268.10" y1="487.70" x2="291.30" y2="487.70" stroke="#666" stroke-width="1.4"/>
<circle cx="274.80" cy="479.20" r="1.7" fill="#fff" stroke="#262626" stroke-width="0.95"/>
<circle cx="279.80" cy="480.60" r="1.7" fill="#fff" stroke="#262626" stroke-width="0.95"/>
<circle cx="284.50" cy="479.20" r="1.7" fill="#fff" stroke="#262626" stroke-width="0.95"/>
<circle cx="274.80" cy="489.30" r="1.7" fill="#fff" stroke="#262626" stroke-width="0.95"/>
<circle cx="279.80" cy="489.70" r="1.7" fill="#fff" stroke="#262626" stroke-width="0.95"/>
<circle cx="284.50" cy="486.60" r="1.7" fill="#fff" stroke="#262626" stroke-width="0.95"/>
<circle cx="279.80" cy="500.10" r="1.7" fill="#fff" stroke="#262626" stroke-width="0.95"/>
<circle cx="284.50" cy="498.70" r="1.7" fill="#fff" stroke="#262626" stroke-width="0.95"/>
<line x1="303.10" y1="460.90" x2="326.60" y2="460.90" stroke="#666" stroke-width="1.4"/>
<circle cx="314.60" cy="449.20" r="1.9" fill="#000"/>
<circle cx="309.90" cy="454.10" r="1.9" fill="#000"/>
<circle cx="314.60" cy="457.10" r="1.9" fill="#000"/>
<circle cx="314.60" cy="465.20" r="1.9" fill="#000"/>
<circle cx="319.30" cy="464.20" r="1.9" fill="#000"/>
<circle cx="314.60" cy="472.70" r="1.9" fill="#000"/>
<circle cx="314.60" cy="485.10" r="1.9" fill="#000"/>
<line x1="338.20" y1="479.40" x2="361.80" y2="479.40" stroke="#666" stroke-width="1.4"/>
<circle cx="344.90" cy="468.90" r="1.9" fill="#000"/>
<circle cx="349.60" cy="473.00" r="1.9" fill="#000"/>
<circle cx="344.90" cy="476.60" r="1.9" fill="#000"/>
<circle cx="349.60" cy="479.30" r="1.9" fill="#000"/>
<circle cx="354.60" cy="478.10" r="1.9" fill="#000"/>
<circle cx="349.60" cy="484.40" r="1.9" fill="#000"/>
<circle cx="354.60" cy="486.00" r="1.9" fill="#000"/>
<circle cx="349.60" cy="489.50" r="1.9" fill="#000"/>
<text x="258.40" y="441.00" font-size="10.3" font-weight="normal" font-style="normal" text-anchor="start" fill="#333" ><tspan font-style="italic">P</tspan> &lt; .01</text>
<line x1="247.70" y1="445.40" x2="308.80" y2="445.40" stroke="#555" stroke-width="1"/>
<text x="318.60" y="441.00" font-size="10.3" font-weight="normal" font-style="normal" text-anchor="start" fill="#333" ><tspan font-style="italic">P</tspan> &lt; .001</text>
<line x1="318.90" y1="445.40" x2="346.30" y2="445.40" stroke="#555" stroke-width="1"/>
<text x="243.60" y="535.10" font-size="10.7" font-weight="normal" font-style="normal" text-anchor="middle" fill="#111" >DMSO</text>
<text x="278.40" y="535.10" font-size="10.7" font-weight="normal" font-style="normal" text-anchor="middle" fill="#111" >R406</text>
<text x="314.70" y="535.10" font-size="10.7" font-weight="normal" font-style="normal" text-anchor="middle" fill="#111" >DMSO</text>
<text x="349.80" y="535.10" font-size="10.7" font-weight="normal" font-style="normal" text-anchor="middle" fill="#111" >R406</text>
<line x1="228.30" y1="540.80" x2="290.00" y2="540.80" stroke="#444" stroke-width="1"/>
<text x="259.20" y="553.90" font-size="11" font-weight="bold" font-style="normal" text-anchor="middle" fill="#000" >control</text>
<line x1="300.50" y1="540.80" x2="358.00" y2="540.80" stroke="#444" stroke-width="1"/>
<text x="329.50" y="553.90" font-size="11" font-weight="bold" font-style="normal" text-anchor="middle" fill="#000" >HS-5</text>
<text transform="translate(198.50,475.00) rotate(-90)" font-size="11.8" font-weight="bold" text-anchor="middle" fill="#000">MFI Mcl-1</text>
<text x="411.60" y="443.80" font-size="9.4" font-weight="bold" font-style="normal" text-anchor="end" fill="#000" >M2-10B4</text>
<text x="411.80" y="454.90" font-size="9.0" font-weight="bold" font-style="normal" text-anchor="end" fill="#000" >R406</text>
<text x="421.80" y="443.90" font-size="10.2" font-weight="bold" font-style="normal" text-anchor="middle" fill="#000" stroke="#000" stroke-width="0.35">-</text>
<text x="438.00" y="443.90" font-size="10.2" font-weight="bold" font-style="normal" text-anchor="middle" fill="#000" stroke="#000" stroke-width="0.35">-</text>
<text x="454.80" y="443.90" font-size="10.2" font-weight="bold" font-style="normal" text-anchor="middle" fill="#000" stroke="#000" stroke-width="0.35">+</text>
<text x="470.70" y="443.90" font-size="10.2" font-weight="bold" font-style="normal" text-anchor="middle" fill="#000" stroke="#000" stroke-width="0.35">+</text>
<text x="421.80" y="455.60" font-size="10.2" font-weight="bold" font-style="normal" text-anchor="middle" fill="#000" stroke="#000" stroke-width="0.35">-</text>
<text x="438.00" y="455.60" font-size="10.2" font-weight="bold" font-style="normal" text-anchor="middle" fill="#000" stroke="#000" stroke-width="0.35">+</text>
<text x="454.80" y="455.60" font-size="10.2" font-weight="bold" font-style="normal" text-anchor="middle" fill="#000" stroke="#000" stroke-width="0.35">-</text>
<text x="470.70" y="455.60" font-size="10.2" font-weight="bold" font-style="normal" text-anchor="middle" fill="#000" stroke="#000" stroke-width="0.35">+</text>
<defs>
<filter id="bl1" x="-50%" y="-50%" width="200%" height="200%"><feGaussianBlur stdDeviation="1.6"/></filter>
<filter id="bl2" x="-50%" y="-50%" width="200%" height="200%"><feGaussianBlur stdDeviation="1.0"/></filter>
</defs>
<rect x="413.30" y="459.50" width="69.20" height="18.60" fill="#d4d7dd" stroke="none" stroke-width="1"/>
<rect x="413.5" y="459.5" width="50" height="4" fill="#c2c6ce" filter="url(#bl1)"/>
<rect x="413.30" y="478.10" width="69.20" height="20.60" fill="#c9cdd3" stroke="none" stroke-width="1"/>
<rect x="462" y="460" width="20" height="18" fill="#dfe1e2" filter="url(#bl1)"/>
<ellipse cx="422.8" cy="466.6" rx="6" ry="3.1" fill="#76868f" opacity="0.95" filter="url(#bl1)"/>
<ellipse cx="438" cy="467.5" rx="5.5" ry="2.6" fill="#b4adc0" opacity="0.6" filter="url(#bl1)"/>
<ellipse cx="455" cy="471.3" rx="9" ry="5.5" fill="#8c90b8" opacity="0.7" filter="url(#bl1)"/>
<ellipse cx="452.6" cy="471.4" rx="4.8" ry="4.3" fill="#0a0a3c" filter="url(#bl2)"/>
<ellipse cx="457.6" cy="471.3" rx="4.6" ry="4.1" fill="#0c0c40" filter="url(#bl2)"/>
<rect x="413.5" y="479" width="68.5" height="13.5" fill="#7a86a0" filter="url(#bl2)"/>
<rect x="414" y="480.5" width="17.5" height="10.5" rx="2" fill="#3a3e7a" filter="url(#bl1)"/>
<rect x="430" y="481" width="18.5" height="10" rx="2" fill="#46607c" filter="url(#bl1)"/>
<rect x="446.5" y="481" width="18.5" height="10.5" rx="2" fill="#3c5072" filter="url(#bl1)"/>
<rect x="463.5" y="481" width="18" height="10.5" rx="2" fill="#4a5a7a" filter="url(#bl1)"/>
<rect x="413.30" y="459.50" width="69.00" height="39.20" fill="none" stroke="#777" stroke-width="1"/>
<line x1="413.30" y1="478.10" x2="482.30" y2="478.10" stroke="#666" stroke-width="1"/>
<text x="486.30" y="472.30" font-size="9.6" font-weight="bold" font-style="normal" text-anchor="start" fill="#000" >Mcl-1</text>
<text x="487.10" y="492.60" font-size="9.6" font-weight="bold" font-style="normal" text-anchor="start" fill="#000" >&#946; actin</text>
<text x="452.00" y="510.40" font-size="9.6" font-weight="bold" font-style="normal" text-anchor="middle" fill="#000" >CLL #101</text>
</svg>
</body></html>
